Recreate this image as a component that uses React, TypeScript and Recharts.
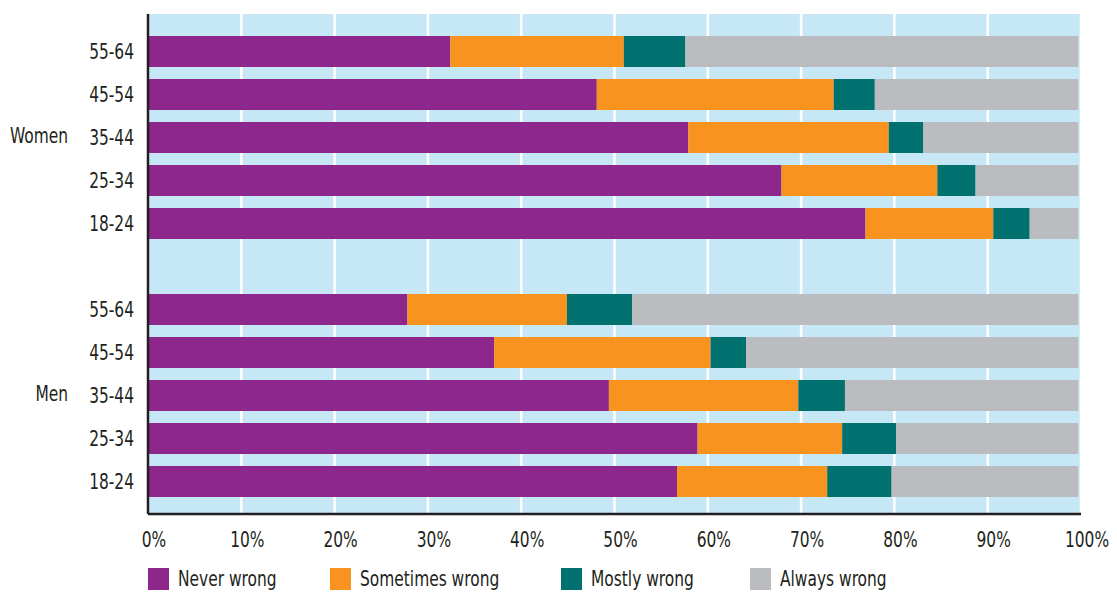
import { BarChart, Bar, XAxis, YAxis, CartesianGrid, Legend } from "recharts";

const ages = ["55-64", "45-54", "35-44", "25-34", "18-24"];
const groups = ["Women", "Men"];

// shares in %
const womenNever = [32.4, 48.1, 57.9, 67.9, 76.9];
const womenSometimes = [18.6, 25.4, 21.5, 16.7, 13.7];
const womenMostly = [6.6, 4.4, 3.7, 4.1, 3.9];
const womenAlways = [42.1, 21.8, 16.6, 11.0, 5.2];

const menNever = [27.8, 37.1, 49.4, 58.9, 56.7];
const menSometimes = [17.1, 23.2, 20.3, 15.5, 16.1];
const menMostly = [7.0, 3.8, 5.0, 5.8, 6.9];
const menAlways = [47.8, 35.6, 25.0, 19.5, 20.0];

const xTicks = [0, 10, 20, 30, 40, 50, 60, 70, 80, 90, 100];

const series = [
  { key: "never", name: "Never wrong", color: "#8e278c" },
  { key: "sometimes", name: "Sometimes wrong", color: "#f7931e" },
  { key: "mostly", name: "Mostly wrong", color: "#00716f" },
  { key: "always", name: "Always wrong", color: "#bbbcbf" },
];

// no narrow font installed, so squeeze condensed DejaVu horizontally
const FONT = "'DejaVu Sans Condensed', 'DejaVu Sans', sans-serif";
const FONT_SIZE = 22;
const SQUEEZE = 0.78;
const TEXT = "#231f20";

const makeRows = (
  group: string,
  never: number[],
  sometimes: number[],
  mostly: number[],
  always: number[]
) =>
  ages.map((age, i) => ({
    key: `${group}|${age}`,
    never: never[i],
    sometimes: sometimes[i],
    mostly: mostly[i],
    always: always[i],
  }));

const data = [
  ...makeRows(groups[0], womenNever, womenSometimes, womenMostly, womenAlways),
  { key: "gap" },
  ...makeRows(groups[1], menNever, menSometimes, menMostly, menAlways),
];

function Squeezed({ x, y, anchor, dy, children }: any) {
  return (
    <text
      transform={`translate(${x} ${y}) scale(${SQUEEZE} 1)`}
      dy={dy}
      textAnchor={anchor}
      fill={TEXT}
      fontSize={FONT_SIZE}
      fontFamily={FONT}
    >
      {children}
    </text>
  );
}

function AgeTick(props: any) {
  const { x, y, payload } = props;
  if (payload.value === "gap") return null;
  const [group, age] = String(payload.value).split("|");
  return (
    <g>
      <Squeezed x={x} y={y} anchor="end" dy="0.36em">
        {age}
      </Squeezed>
      {age === "35-44" && (
        <Squeezed x={x - 66} y={y - 2} anchor="end" dy="0.36em">
          {group}
        </Squeezed>
      )}
    </g>
  );
}

function PercentTick(props: any) {
  const { x, y, payload } = props;
  return (
    <Squeezed x={x + 6} y={y} anchor="middle" dy="0.71em">
      {`${payload.value}%`}
    </Squeezed>
  );
}

const legendWidths = [182, 231, 189, 200];

function LegendBox() {
  return (
    <div style={{ display: "flex", fontFamily: FONT, fontSize: FONT_SIZE, color: TEXT }}>
      {series.map((s, i) => (
        <div
          key={s.key}
          style={{ display: "flex", alignItems: "center", width: legendWidths[i], whiteSpace: "nowrap" }}
        >
          <div style={{ width: 21, height: 22, background: s.color, flex: "none" }} />
          <span
            style={{
              display: "inline-block",
              marginLeft: 9,
              lineHeight: "26px",
              transform: `scaleX(${SQUEEZE})`,
              transformOrigin: "left center",
            }}
          >
            {s.name}
          </span>
        </div>
      ))}
    </div>
  );
}

export default function App() {
  return (
    <BarChart
      width={1109}
      height={584}
      data={data}
      layout="vertical"
      barSize={31}
      margin={{ top: 6, right: 36, bottom: 0, left: 0 }}
    >
      <CartesianGrid horizontal={false} stroke="#ffffff" strokeWidth={2.5} fill="#c6e8f6" />
      <XAxis
        type="number"
        domain={[0, 100]}
        ticks={xTicks}
        height={52}
        tickLine={false}
        tickSize={0}
        tickMargin={17}
        axisLine={{ stroke: TEXT, strokeWidth: 2.5 }}
        tick={<PercentTick />}
      />
      <YAxis
        type="category"
        dataKey="key"
        width={140}
        tickLine={false}
        tickSize={0}
        tickMargin={14}
        interval={0}
        padding={{ top: 16, bottom: 11 }}
        axisLine={{ stroke: TEXT, strokeWidth: 2.5 }}
        tick={<AgeTick />}
      />
      <Legend
        verticalAlign="bottom"
        content={<LegendBox />}
        wrapperStyle={{ left: 140, bottom: 0, width: 900, height: 26 }}
      />
      {series.map((s) => (
        <Bar
          key={s.key}
          dataKey={s.key}
          name={s.name}
          stackId="a"
          fill={s.color}
          isAnimationActive={false}
        />
      ))}
    </BarChart>
  );
}
